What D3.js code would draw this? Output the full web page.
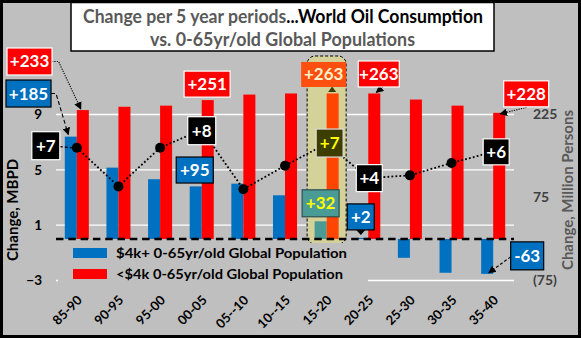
<!DOCTYPE html>
<html><head><meta charset="utf-8">
<script src="https://cdn.jsdelivr.net/npm/d3@7"></script>
<style>
body{margin:0;background:#fff}
svg{display:block;font-family:Lato,"Open Sans",sans-serif;font-weight:bold}
</style></head><body>
<svg id="chart" width="581" height="338"></svg>
<script>
// Five-year periods and the changes measured over each of them
const periods = ["85-90","90-95","95-00","00-05","05--10","10--15","15-20","20-25","25-30","30-35","35-40"];
const richPop = [185,129,108,95,100,79,32,2,-34,-61,-63];        // $4k+ 0-65yr/old, million persons
const poorPop = [233,239,241,251,261,263,263,263,252,241,228];   // <$4k 0-65yr/old, million persons
const oilChange = [6.6,3.8,6.6,7.9,3.6,5.3,6.9,4.4,4.6,5.5,6.3]; // world oil consumption, MBPD
const leftTicks = [-3,1,5,9];
const rightTicks = [-75,75,225];
const seriesNames = ["$4k+  0-65yr/old Global Population","<$4k 0-65yr/old Global Population"];
const focusPeriod = "15-20";

const W = 581, H = 338;
const svg = d3.select("#chart");
const C = {blue:"#0070c0", red:"#ff0000", teal:"#4a9a96", orange:"#ff4500", bg:"#bfbfbf"};

const x = d3.scaleBand().domain(periods).range([56,514]).paddingInner(0.423).paddingOuter(0.2115);
const xs = d3.scaleBand().domain(["rich","poor"]).range([0,x.bandwidth()]);
const yL = d3.scaleLinear().domain([-3,9]).range([280.5,114.5]);
const yR = d3.scaleLinear().domain([-75,225]).range([280.5,114.5]);
const cx = p => x(p) + x.bandwidth()/2;

// frame
svg.append("rect").attr("x",1.5).attr("y",1.5).attr("width",W-3).attr("height",H-3)
  .attr("fill",C.bg).attr("stroke","#000").attr("stroke-width",3);

// gridlines
svg.append("g").selectAll("line").data(leftTicks).join("line")
  .attr("x1",56).attr("x2",514).attr("y1",d=>yL(d)).attr("y2",d=>yL(d))
  .attr("stroke","#fff").attr("stroke-width",1.3);

// highlighted period
const fx = x(focusPeriod);
svg.append("rect").attr("x",fx-7.5).attr("y",56).attr("width",x.bandwidth()+15).attr("height",188)
  .attr("rx",8).attr("fill","#d4d199").attr("stroke","#000").attr("stroke-width",1).attr("stroke-dasharray","3,2");

// bars
const rows = periods.map((p,i)=>({p, rich:richPop[i], poor:poorPop[i], oil:oilChange[i]}));
const bars = svg.append("g");
bars.selectAll(".rich").data(rows).join("rect").attr("class","rich")
  .attr("x",d=>x(d.p)+xs("rich")).attr("width",xs.bandwidth())
  .attr("y",d=>yR(Math.max(0,d.rich))).attr("height",d=>Math.abs(yR(d.rich)-yR(0)))
  .attr("fill",d=>d.p===focusPeriod?C.teal:C.blue);
bars.selectAll(".poor").data(rows).join("rect").attr("class","poor")
  .attr("x",d=>x(d.p)+xs("poor")).attr("width",xs.bandwidth())
  .attr("y",d=>yR(Math.max(0,d.poor))).attr("height",d=>Math.abs(yR(d.poor)-yR(0)))
  .attr("fill",d=>d.p===focusPeriod?C.orange:C.red);

// zero line
svg.append("line").attr("x1",56).attr("x2",514).attr("y1",yL(0)).attr("y2",yL(0))
  .attr("stroke","#000").attr("stroke-width",2.5).attr("stroke-dasharray","7.5,4.8");

// legend
const lg = svg.append("g");
lg.append("rect").attr("x",58).attr("y",243).attr("width",310).attr("height",48).attr("fill",C.bg);
seriesNames.forEach((n,i)=>{
  lg.append("rect").attr("x",73).attr("y",248+i*21).attr("width",34).attr("height",10).attr("fill",i?C.red:C.blue);
  lg.append("text").attr("x",116).attr("y",258+i*21).attr("font-size",13.5).attr("fill","#000")
    .attr("textLength",i?227:231).attr("lengthAdjust","spacingAndGlyphs").text(n);
});

// oil consumption line
svg.append("path").datum(rows)
  .attr("d",d3.line().x(d=>cx(d.p)).y(d=>yL(d.oil)))
  .attr("fill","none").attr("stroke","#000").attr("stroke-width",1.8).attr("stroke-dasharray","1.8,2.2");
svg.append("g").selectAll("circle").data(rows).join("circle")
  .attr("cx",d=>cx(d.p)).attr("cy",d=>yL(d.oil)).attr("r",5).attr("fill","#000");

// axes
const axL = svg.append("g").attr("transform","translate(45,0)")
  .call(d3.axisLeft(yL).tickValues(leftTicks).tickSize(0).tickFormat(d3.format("d")));
axL.select(".domain").remove();
axL.selectAll("text").attr("font-size",13.5).attr("font-family","Lato").attr("font-weight","bold").attr("fill","#000").attr("x",-3);
const axR = svg.append("g").attr("transform","translate(533,0)")
  .call(d3.axisRight(yR).tickValues(rightTicks).tickSize(0).tickFormat(d=>d<0?`(${-d})`:d));
axR.select(".domain").remove();
axR.selectAll("text").attr("font-size",14).attr("font-family","Lato").attr("font-weight","bold").attr("fill","#404040").attr("x",0);
const axX = svg.append("g");
axX.selectAll("text").data(periods).join("text")
  .attr("transform",p=>`translate(${cx(p)+6},${301}) rotate(-45)`)
  .attr("text-anchor","end").attr("font-size",13).attr("fill","#000").text(p=>p);

svg.append("text").attr("transform","translate(18,210) rotate(-90)").attr("text-anchor","middle")
  .attr("font-size",15).attr("fill","#000").text("Change, MBPD");
svg.append("text").attr("transform","translate(573,190) rotate(-90)").attr("text-anchor","middle")
  .attr("font-size",15).attr("fill","#595959").text("Change, Million Persons");

// title
svg.append("rect").attr("x",71).attr("y",2.5).attr("width",423).attr("height",48.5)
  .attr("fill","#fff").attr("stroke","#000").attr("stroke-width",1.5);
const t1 = svg.append("text").attr("x",83).attr("y",23).attr("font-size",18)
  .attr("textLength",400).attr("lengthAdjust","spacingAndGlyphs");
t1.append("tspan").attr("fill","#595959").text("Change per 5 year periods");
t1.append("tspan").attr("fill","#000").text("...World Oil Consumption");
svg.append("text").attr("x",282.5).attr("y",46).attr("text-anchor","middle").attr("font-size",18)
  .attr("fill","#595959").attr("textLength",265).attr("lengthAdjust","spacingAndGlyphs")
  .text("vs. 0-65yr/old Global Populations");

// callouts
const defs = svg.append("defs");
defs.append("marker").attr("id","ah").attr("viewBox","0 0 10 10").attr("refX",9).attr("refY",5)
  .attr("markerWidth",7).attr("markerHeight",7).attr("orient","auto")
  .append("path").attr("d","M0,0L10,5L0,10Z").attr("fill","#000");

const sign = v => (v>0?"+":"")+v;
const anchors = {
  poor:(p,v)=>[x(p)+xs("poor")+xs.bandwidth()/2, yR(v)],
  rich:(p,v)=>[x(p)+xs("rich")+xs.bandwidth()/2, yR(v)],
  oil:(p,v)=>[cx(p), yL(v)]
};
const valueOf = {poor:poorPop, rich:richPop, oil:oilChange};
const callouts = [
  {s:"poor",p:"85-90",dx:-53.3,dy:-48.6,w:45,h:27,fill:C.red,stroke:"#fff",color:"#fff"},
  {s:"rich",p:"85-90",dx:-42.3,dy:-43.1,w:45,h:27,fill:C.blue,stroke:"#000",color:"#fff"},
  {s:"oil",p:"85-90",dx:-31,dy:-2,w:28,h:28,fill:"#000",stroke:"#fff",color:"#fff"},
  {s:"poor",p:"00-05",dx:-0.6,dy:-16,w:46,h:26,fill:C.red,stroke:"#fff",color:"#fff"},
  {s:"oil",p:"00-05",dx:0,dy:1,w:28,h:28,fill:"#000",stroke:"#fff",color:"#fff"},
  {s:"rich",p:"00-05",dx:-1,dy:-16.4,w:37,h:26,fill:C.blue,stroke:"#000",color:"#fff"},
  {s:"poor",p:"15-20",dx:-9,dy:-19,w:45,h:25,fill:"#ff4f10",stroke:"none",color:"#fff2cc"},
  {s:"oil",p:"15-20",dx:3,dy:-0.5,w:27,h:28,fill:"#3d3d00",stroke:"#ddd",color:"#ffff00"},
  {s:"rich",p:"15-20",dx:0,dy:-18,w:37,h:27,fill:C.teal,stroke:"#2f4f4f",color:"#ffff00"},
  {s:"poor",p:"20-25",dx:4.5,dy:-19.5,w:41,h:26,fill:C.red,stroke:"#fff",color:"#fff"},
  {s:"oil",p:"20-25",dx:1,dy:0,w:26,h:27,fill:"#000",stroke:"#fff",color:"#fff"},
  {s:"rich",p:"20-25",dx:-1.5,dy:-21,w:27,h:26,fill:C.blue,stroke:"#000",color:"#fff"},
  {s:"poor",p:"35-40",dx:27,dy:-19,w:45,h:26,fill:C.red,stroke:"#fff",color:"#fff"},
  {s:"oil",p:"35-40",dx:3,dy:0,w:26,h:26,fill:"#000",stroke:"#fff",color:"#fff"},
  {s:"rich",p:"35-40",dx:40,dy:-18,w:33,h:28,fill:C.blue,stroke:"#000",color:"#fff"}
];
const cg = svg.append("g");
const boxAt = c => { const v = valueOf[c.s][periods.indexOf(c.p)]; const a = anchors[c.s](c.p,v);
  return {v, ax:a[0], ay:a[1], bx:a[0]+c.dx, by:a[1]+c.dy}; };

// leader lines and pointer tips
function leader(pts,dash){
  cg.append("path").attr("d",d3.line()(pts)).attr("fill","none").attr("stroke","#000")
    .attr("stroke-width",1.1).attr("stroke-dasharray",dash).attr("marker-end","url(#ah)");
}
{
  const b = boxAt(callouts[0]); leader([[b.bx+22.5,b.by],[b.bx+29,b.by],[b.ax-2,b.ay-1]],"1.2,1.2");
  const c = boxAt(callouts[1]); leader([[c.bx+22.5,c.by],[c.bx+27.5,c.by],[c.ax-2.5,c.ay-2]],"4,2.5");
  const d = boxAt(callouts[2]);
  cg.append("line").attr("x1",d.bx+14).attr("x2",d.ax-5).attr("y1",d.by+1).attr("y2",d.ay)
    .attr("stroke","#000").attr("stroke-width",1.2).attr("stroke-dasharray","3,2");
  const e = boxAt(callouts[9]); leader([[e.bx+4,e.by+13],[e.ax+2,e.ay-1]],"1.2,1.2");
  const f = boxAt(callouts[12]); leader([[f.bx+0.5,f.by+13.5],[f.ax+1,f.ay+1]],"1.2,1.2");
  const g = boxAt(callouts[14]); leader([[g.bx-16.5,g.by+1],[g.ax+1.5,g.ay-1]],"3,2");
  const h = boxAt(callouts[11]);
  cg.append("path").attr("d",`M${h.bx-4.5},${h.by+13}L${h.bx+4.5},${h.by+13}L${h.bx},${h.by+18}Z`).attr("fill","#000");
  const o = boxAt(callouts[6]);
  cg.append("path").attr("d",`M${o.ax-4.5},${o.ay-1.5}L${o.ax+3.5},${o.ay-1.5}L${o.ax-0.5},${o.ay-7}Z`).attr("fill","#3d3d00");
}
callouts.forEach(c=>{
  const b = boxAt(c);
  const lab = c.s==="oil" ? sign(Math.round(b.v)) : sign(b.v);
  cg.append("rect").attr("x",b.bx-c.w/2).attr("y",b.by-c.h/2).attr("width",c.w).attr("height",c.h)
    .attr("fill",c.fill).attr("stroke",c.stroke).attr("stroke-width",1.2);
  cg.append("text").attr("x",b.bx).attr("y",b.by+6).attr("text-anchor","middle")
    .attr("font-size",17).attr("fill",c.color).text(lab);
});
</script>
</body></html>
